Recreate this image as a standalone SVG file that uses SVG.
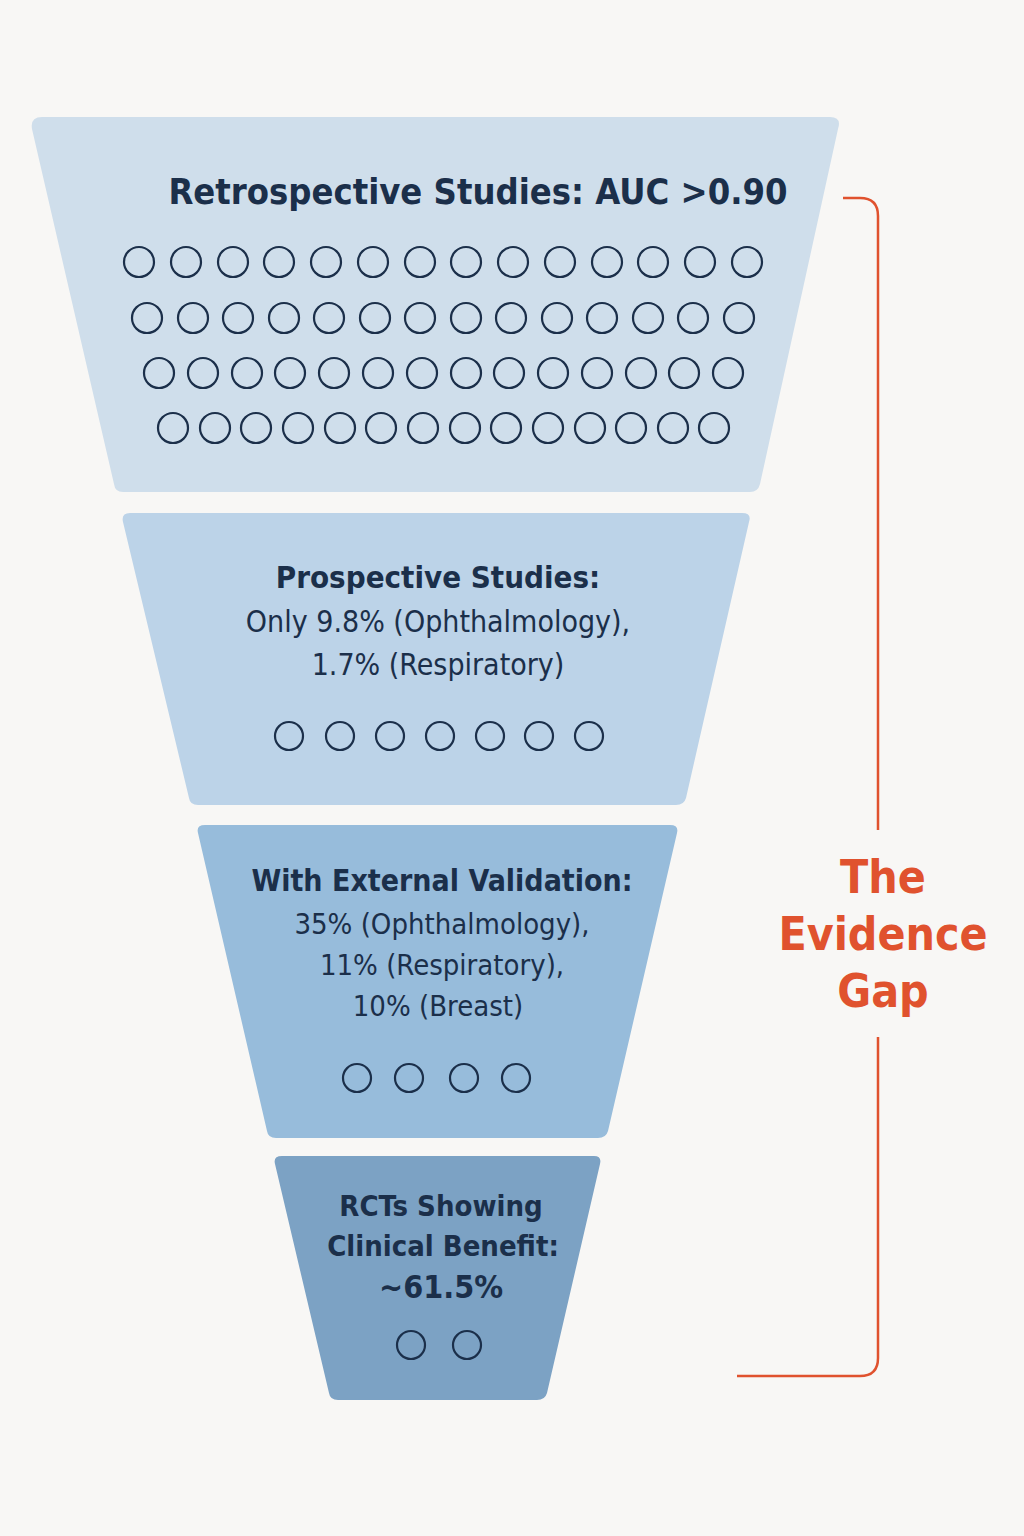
<svg xmlns="http://www.w3.org/2000/svg" width="1024" height="1536" viewBox="0 0 1024 1536">
<style>
.t{font-family:"DejaVu Sans Condensed","DejaVu Sans",sans-serif;fill:#1b2f4a;text-anchor:middle}
.b{font-weight:bold}
.c{fill:none;stroke:#1b2f4a;stroke-width:2.2}
.g{font-family:"DejaVu Sans Condensed","DejaVu Sans",sans-serif;font-weight:bold;fill:#e0522e;text-anchor:middle;font-size:46px}
</style>
<rect width="1024" height="1536" fill="#f8f7f5"/>
<g id="tier1">
<path d="M42 117 H830 Q842 117 838 129 L760 484 Q758 492 750 492 H123 Q115 492 114 484 L32 129 Q30 117 42 117Z" fill="#cfdeeb"/>
<text class="t b" x="478" y="204" font-size="36">Retrospective Studies: AUC &gt;0.90</text>
<g class="c">
<circle cx="139" cy="262" r="15"/><circle cx="186" cy="262" r="15"/><circle cx="233" cy="262" r="15"/><circle cx="279" cy="262" r="15"/><circle cx="326" cy="262" r="15"/><circle cx="373" cy="262" r="15"/><circle cx="420" cy="262" r="15"/><circle cx="466" cy="262" r="15"/><circle cx="513" cy="262" r="15"/><circle cx="560" cy="262" r="15"/><circle cx="607" cy="262" r="15"/><circle cx="653" cy="262" r="15"/><circle cx="700" cy="262" r="15"/><circle cx="747" cy="262" r="15"/>
<circle cx="147" cy="318" r="15"/><circle cx="193" cy="318" r="15"/><circle cx="238" cy="318" r="15"/><circle cx="284" cy="318" r="15"/><circle cx="329" cy="318" r="15"/><circle cx="375" cy="318" r="15"/><circle cx="420" cy="318" r="15"/><circle cx="466" cy="318" r="15"/><circle cx="511" cy="318" r="15"/><circle cx="557" cy="318" r="15"/><circle cx="602" cy="318" r="15"/><circle cx="648" cy="318" r="15"/><circle cx="693" cy="318" r="15"/><circle cx="739" cy="318" r="15"/>
<circle cx="159" cy="373" r="15"/><circle cx="203" cy="373" r="15"/><circle cx="247" cy="373" r="15"/><circle cx="290" cy="373" r="15"/><circle cx="334" cy="373" r="15"/><circle cx="378" cy="373" r="15"/><circle cx="422" cy="373" r="15"/><circle cx="466" cy="373" r="15"/><circle cx="509" cy="373" r="15"/><circle cx="553" cy="373" r="15"/><circle cx="597" cy="373" r="15"/><circle cx="641" cy="373" r="15"/><circle cx="684" cy="373" r="15"/><circle cx="728" cy="373" r="15"/>
<circle cx="173" cy="428" r="15"/><circle cx="215" cy="428" r="15"/><circle cx="256" cy="428" r="15"/><circle cx="298" cy="428" r="15"/><circle cx="340" cy="428" r="15"/><circle cx="381" cy="428" r="15"/><circle cx="423" cy="428" r="15"/><circle cx="465" cy="428" r="15"/><circle cx="506" cy="428" r="15"/><circle cx="548" cy="428" r="15"/><circle cx="590" cy="428" r="15"/><circle cx="631" cy="428" r="15"/><circle cx="673" cy="428" r="15"/><circle cx="714" cy="428" r="15"/>
</g>
</g>
<g id="tier2">
<path d="M130 513 H742 Q752 513 749 522 L686 798 Q684 805 676 805 H198 Q190 805 189 798 L123 522 Q121 513 130 513Z" fill="#bcd3e8"/>
<text class="t b" x="438" y="588" font-size="31">Prospective Studies:</text>
<text class="t" x="438" y="632" font-size="30">Only 9.8% (Ophthalmology),</text>
<text class="t" x="438" y="675" font-size="30">1.7% (Respiratory)</text>
<g class="c"><circle cx="289" cy="736" r="14"/><circle cx="340" cy="736" r="14"/><circle cx="390" cy="736" r="14"/><circle cx="440" cy="736" r="14"/><circle cx="490" cy="736" r="14"/><circle cx="539" cy="736" r="14"/><circle cx="589" cy="736" r="14"/></g>
</g>
<g id="tier3">
<path d="M205 825 H670 Q679 825 677 833 L608 1131 Q606 1138 598 1138 H276 Q268 1138 267 1131 L198 833 Q196 825 205 825Z" fill="#97bcdb"/>
<text class="t b" x="442" y="891" font-size="30">With External Validation:</text>
<text class="t" x="442" y="934" font-size="29">35% (Ophthalmology),</text>
<text class="t" x="442" y="975" font-size="29">11% (Respiratory),</text>
<text class="t" x="438" y="1016" font-size="29">10% (Breast)</text>
<g class="c"><circle cx="357" cy="1078" r="14"/><circle cx="409" cy="1078" r="14"/><circle cx="464" cy="1078" r="14"/><circle cx="516" cy="1078" r="14"/></g>
</g>
<g id="tier4">
<path d="M282 1156 H594 Q602 1156 600 1164 L547 1393 Q545 1400 537 1400 H338 Q330 1400 329 1393 L275 1164 Q273 1156 282 1156Z" fill="#7ca2c4"/>
<text class="t b" x="441" y="1216" font-size="29">RCTs Showing</text>
<text class="t b" x="443" y="1256" font-size="29">Clinical Benefit:</text>
<text class="t b" x="441" y="1298" font-size="32">~61.5%</text>
<g class="c"><circle cx="411" cy="1345" r="14"/><circle cx="467" cy="1345" r="14"/></g>
</g>
<g id="connectors" fill="none" stroke="#e0522e" stroke-width="2.5">
<path d="M843 198 H860 Q878 198 878 216 V830"/>
<path d="M878 1037 V1358 Q878 1376 860 1376 H737"/>
</g>
<g id="label">
<text class="g" x="883" y="893">The</text>
<text class="g" x="883" y="950">Evidence</text>
<text class="g" x="883" y="1007">Gap</text>
</g>
</svg>
